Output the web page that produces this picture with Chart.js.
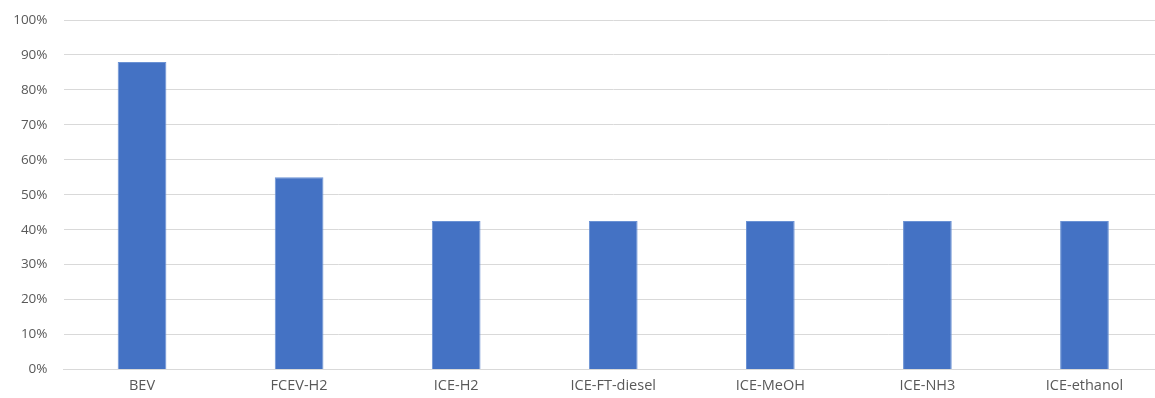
<!DOCTYPE html>
<html>
<head>
<meta charset="utf-8">
<script src="https://cdn.jsdelivr.net/npm/chart.js@4"></script>
<style>
    html, body { margin: 0; padding: 0; background: #ffffff; overflow: hidden; }
    #wrap { width: 1163px; height: 398px; }
</style>
</head>
<body>
<div id="wrap"><canvas id="chart"></canvas></div>
<script>
/* Efficiency by drivetrain - single bar series */
const categories = ['BEV', 'FCEV-H2', 'ICE-H2', 'ICE-FT-diesel', 'ICE-MeOH', 'ICE-NH3', 'ICE-ethanol'];
const efficiency = [88, 55, 42.5, 42.5, 42.5, 42.5, 42.5];
const yTicks = [0, 10, 20, 30, 40, 50, 60, 70, 80, 90, 100];

const colors = {
    bar: '#4472c4',
    barEdge: '#6b92d4',
    grid: '#d9d9d9',
    text: '#595959',
};

new Chart(document.getElementById('chart'), {
    type: 'bar',
    data: {
        labels: categories,
        datasets: [{
            data: efficiency,
            backgroundColor: colors.bar,
            borderColor: colors.barEdge,
            borderWidth: 1,
            categoryPercentage: 1,
            barPercentage: 0.31,
        }],
    },
    options: {
        responsive: true,
        maintainAspectRatio: false,
        animation: false,
        layout: { padding: { top: 20, left: 0, right: 0, bottom: 0 } },
        plugins: {
            legend: { display: false },
            tooltip: { enabled: false },
        },
        scales: {
            x: {
                grid: { display: false },
                border: { color: colors.grid, width: 1 },
                ticks: {
                    color: colors.text,
                    font: { family: 'Open Sans', size: 14.5 },
                    padding: 0,
                    maxRotation: 0,
                },
                afterFit: (scale) => { scale.height = 28.5; },
            },
            y: {
                min: 0,
                max: 100,
                afterBuildTicks: (scale) => { scale.ticks = yTicks.map(v => ({ value: v })); },
                grid: { color: colors.grid, lineWidth: 1, drawTicks: false },
                border: { display: false },
                ticks: {
                    color: colors.text,
                    font: { family: 'Open Sans', size: 13.5 },
                    padding: 16,
                    callback: (v) => v + '%',
                },
                afterFit: (scale) => {
                    scale.width = 63.5;
                    scale.paddingTop = 0;
                    scale.paddingBottom = 0;
                },
            },
        },
    },
});
</script>
</body>
</html>
